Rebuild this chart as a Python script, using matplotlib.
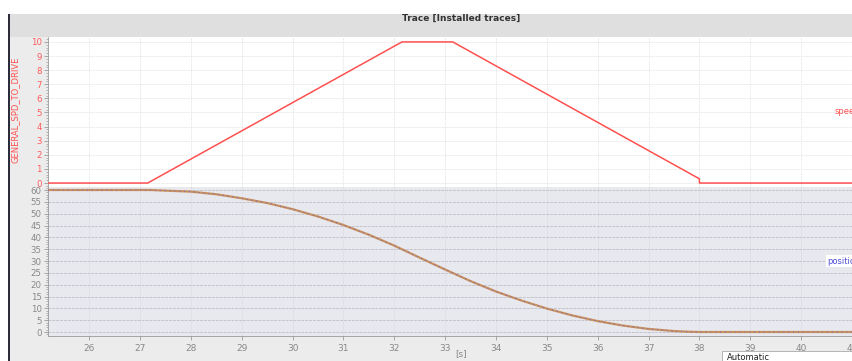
import matplotlib
matplotlib.use('Agg')
import matplotlib.pyplot as plt
from matplotlib.patches import Rectangle
from matplotlib.ticker import MultipleLocator

# speed trace (GENERAL_SPD_TO_DRIVE)
speed_t = [25.19, 27.15, 32.15, 33.15, 38.0, 38.0, 41.02]
speed_v = [0, 0, 10, 10, 0.3, 0, 0]

# position trace
pos_t = [25.19, 27.2, 28.0, 28.5, 29.0, 29.5, 30.0, 30.5, 31.0, 31.5, 32.0,
         32.5, 33.0, 33.5, 34.0, 34.5, 35.0, 35.5, 36.0, 36.5, 37.0, 37.5,
         37.8, 38.0, 41.02]
pos_v = [60, 60, 59.3, 58.2, 56.5, 54.5, 51.9, 48.8, 45.2, 41.1, 36.5,
         31.4, 26.4, 21.5, 17.1, 13.3, 9.9, 7.0, 4.6, 2.7, 1.3, 0.4,
         0.1, 0, 0]

x_ticks = list(range(26, 42))
title = 'Trace [Installed traces]'
speed_label = 'GENERAL_SPD_TO_DRIVE'

W, H = 853, 361
fig = plt.figure(figsize=(W / 100, H / 100), dpi=100)
fig.patch.set_facecolor('#ececec')

def px(x0, y0, w, h):
    return [x0 / W, 1 - (y0 + h) / H, w / W, h / H]

# white strip on top, gray header, dark left border
fig.patches.append(Rectangle((0, 1 - 14 / H), 1, 14 / H, transform=fig.transFigure,
                             facecolor='white', edgecolor='none', zorder=0))
fig.patches.append(Rectangle((0, 0), 9 / W, 1 - 14 / H, transform=fig.transFigure,
                             facecolor='white', edgecolor='none', zorder=0))
fig.patches.append(Rectangle((9 / W, 1 - 37 / H), 1, 23 / H, transform=fig.transFigure,
                             facecolor='#dfdfdf', edgecolor='none', zorder=0))
fig.patches.append(Rectangle((8 / W, 0), 2 / W, 1 - 14 / H, transform=fig.transFigure,
                             facecolor='#2c2c3a', edgecolor='none', zorder=1))
fig.text(461 / W, 1 - 18 / H, title, ha='center', va='center', fontsize=6.5,
         fontweight='bold', color='#333333')

tick_kw = dict(labelsize=6.2, length=3, width=0.6, pad=1.5)

# upper axes: speed
ax1 = fig.add_axes(px(48, 37, 805, 150))
ax1.set_facecolor('white')
ax1.plot(speed_t, speed_v, color='#ff5050', lw=1.1, zorder=3)
ax1.set_xlim(25.19, 41.02)
ax1.set_ylim(-0.28, 10.35)
ax1.yaxis.set_major_locator(MultipleLocator(1))
ax1.yaxis.set_minor_locator(MultipleLocator(0.2))
ax1.xaxis.set_major_locator(MultipleLocator(1))
ax1.tick_params(axis='y', colors='#999999', labelcolor='#ff5a5a', **tick_kw)
ax1.tick_params(axis='y', which='minor', length=1.5, width=0.5, colors='#999999')
ax1.tick_params(axis='x', length=0, labelbottom=False)
ax1.grid(True, color='#e6e6e6', lw=0.6, ls=(0, (2, 1)))
for s in ['top', 'right', 'bottom']:
    ax1.spines[s].set_visible(False)
ax1.spines['left'].set_color('#999999')
ax1.spines['left'].set_linewidth(0.6)
ax1.text(835 / W, 1 - 112 / H, 'speed', transform=fig.transFigure, fontsize=6,
         color='#ff5050', va='center', ha='left')

# lower axes: position
ax2 = fig.add_axes(px(48, 187, 805, 149))
ax2.set_facecolor('#e8e8ef')
ax2.plot(pos_t, pos_v, color='#c89060', lw=1.6, zorder=3)
ax2.plot(pos_t, pos_v, color='#5a5ad0', lw=0.7, ls=(0, (1, 4)), alpha=0.8, zorder=4)
ax2.set_xlim(25.19, 41.02)
ax2.set_ylim(-1.69, 61.27)
ax2.set_xticks(x_ticks)
ax2.yaxis.set_major_locator(MultipleLocator(5))
ax2.yaxis.set_minor_locator(MultipleLocator(1))
ax2.tick_params(axis='y', colors='#999999', labelcolor='#888888', **tick_kw)
ax2.tick_params(axis='y', which='minor', length=1.5, width=0.5, colors='#999999')
ax2.tick_params(axis='x', colors='#999999', labelcolor='#888888', labelsize=6.5,
                length=3, width=0.6, pad=3)
ax2.xaxis.grid(True, color='#dadae0', lw=0.6, ls=(0, (2, 1)))
ax2.yaxis.grid(True, color='#c4c4cc', lw=0.7, ls=(0, (3, 1)))
for s in ['top', 'right']:
    ax2.spines[s].set_visible(False)
for s in ['left', 'bottom']:
    ax2.spines[s].set_color('#999999')
    ax2.spines[s].set_linewidth(0.6)
ax2.text(827 / W, 1 - 261 / H, 'position', transform=fig.transFigure, fontsize=6,
         color='#5050e0', va='center', ha='left',
         bbox=dict(facecolor='white', edgecolor='none', pad=0.8))

fig.text(15 / W, 1 - 110 / H, speed_label, rotation=90, ha='center', va='center',
         fontsize=6, color='#ff5050')
fig.text(461 / W, 1 - 354 / H, '[s]', ha='center', va='center', fontsize=6.5,
         color='#888888')

# "Automatic" dropdown box
fig.patches.append(Rectangle((722 / W, 0), 131 / W, 10 / H, transform=fig.transFigure,
                             facecolor='white', edgecolor='#aaaaaa', lw=0.6, zorder=5))
fig.text(727 / W, 3 / H, 'Automatic', fontsize=6, color='#222222', va='center',
         ha='left', zorder=6)

fig.savefig('out.png', dpi=100, facecolor=fig.get_facecolor())
